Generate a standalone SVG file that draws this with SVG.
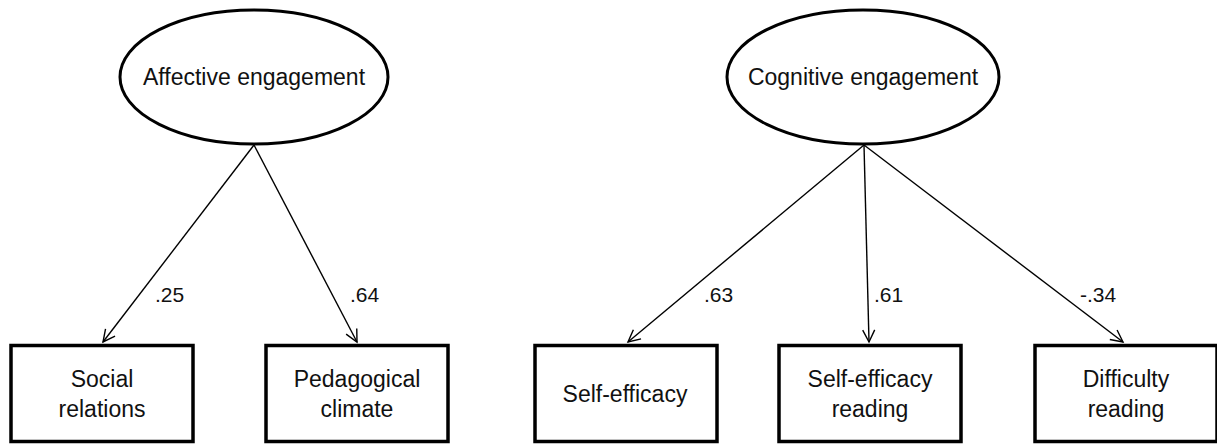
<svg xmlns="http://www.w3.org/2000/svg" width="1217" height="445" viewBox="0 0 1217 445">
<style>
.node{fill:#fff;stroke:#000;stroke-width:3.5}
.lat{fill:#fff;stroke:#000;stroke-width:3}
.t{font-family:"Liberation Sans",Arial,sans-serif;font-size:23px;fill:#111;text-anchor:middle}
.lbl{font-family:"Liberation Sans",Arial,sans-serif;font-size:21px;fill:#111}
.edge{stroke:#000;stroke-width:1.4;fill:none;marker-end:url(#arr)}
</style>
<defs>
<marker id="arr" markerUnits="userSpaceOnUse" markerWidth="18" markerHeight="18" refX="14" refY="8" orient="auto">
<path d="M2,2 L14,8 L2,14" fill="none" stroke="#000" stroke-width="1.4"/>
</marker>
</defs>
<rect width="1217" height="445" fill="#fff"/>
<g id="connectors">
<line class="edge" x1="254" y1="145" x2="103" y2="342"/>
<line class="edge" x1="254" y1="145" x2="357" y2="342"/>
<line class="edge" x1="864" y1="145" x2="628" y2="342"/>
<line class="edge" x1="864" y1="145" x2="869" y2="342"/>
<line class="edge" x1="864" y1="145" x2="1123" y2="342"/>
<text class="lbl" x="155" y="302">.25</text>
<text class="lbl" x="350" y="302">.64</text>
<text class="lbl" x="704" y="302">.63</text>
<text class="lbl" x="874" y="302">.61</text>
<text class="lbl" x="1080" y="302">-.34</text>
</g>
<g id="affective">
<ellipse class="lat" cx="254" cy="77" rx="134" ry="67"/>
<text class="t" x="254" y="85">Affective engagement</text>
</g>
<g id="cognitive">
<ellipse class="lat" cx="863" cy="77" rx="136" ry="67"/>
<text class="t" x="863" y="85">Cognitive engagement</text>
</g>
<g id="social">
<rect class="node" x="11" y="345.5" width="182" height="96"/>
<text class="t" x="102" y="387">Social</text>
<text class="t" x="102" y="417">relations</text>
</g>
<g id="pedagogical">
<rect class="node" x="266" y="345.5" width="182" height="96"/>
<text class="t" x="357" y="387">Pedagogical</text>
<text class="t" x="357" y="417">climate</text>
</g>
<g id="selfefficacy">
<rect class="node" x="535" y="345.5" width="182" height="96"/>
<text class="t" x="625" y="402">Self-efficacy</text>
</g>
<g id="selfefficacyreading">
<rect class="node" x="779" y="345.5" width="182" height="96"/>
<text class="t" x="870" y="387">Self-efficacy</text>
<text class="t" x="870" y="417">reading</text>
</g>
<g id="difficulty">
<rect class="node" x="1035" y="345.5" width="182" height="96"/>
<text class="t" x="1126" y="387">Difficulty</text>
<text class="t" x="1126" y="417">reading</text>
</g>
</svg>
